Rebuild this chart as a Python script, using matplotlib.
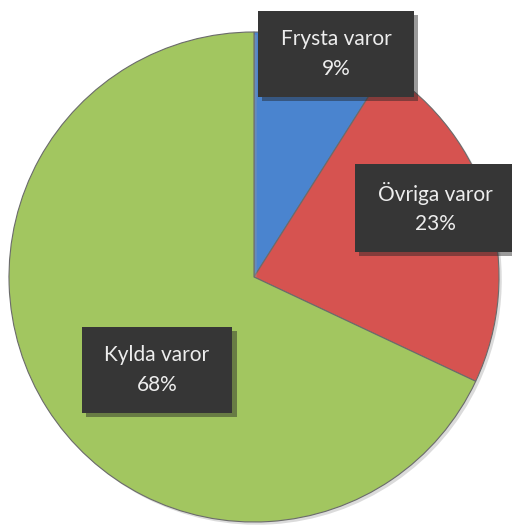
import matplotlib
matplotlib.use("Agg")
import matplotlib.pyplot as plt
import matplotlib.patheffects as pe

categories = ["Frysta varor", "Övriga varor", "Kylda varor"]
values = [9, 23, 68]
colors = ["#4A84CF", "#D65350", "#A2C660"]
label_pos = [(336, 472), (435, 318), (157, 156)]

W, H = 512, 526
fig = plt.figure(figsize=(W / 100, H / 100), dpi=100)
ax = fig.add_axes([0, 0, 1, 1])

wedges, _ = ax.pie(values, colors=colors, startangle=90, counterclock=False,
                   center=(254, 249), radius=245, frame=True,
                   wedgeprops=dict(edgecolor="#6b6b6b", linewidth=0.8))
for w in wedges:
    w.set_path_effects([pe.SimplePatchShadow(offset=(2, -2), shadow_rgbFace="#999999", alpha=0.35),
                        pe.Normal()])
ax.set_xlim(0, W)
ax.set_ylim(0, H)
ax.set_aspect("equal")
ax.axis("off")

for cat, val, (x, y) in zip(categories, values, label_pos):
    t = ax.text(x, y, f"{cat}\n{val}%", ha="center", va="center",
                color="#EDEDED", fontsize=15, family="Lato", linespacing=1.6,
                bbox=dict(boxstyle="square,pad=1.1", facecolor="#363636",
                          edgecolor="none"))
    bp = t.get_bbox_patch()
    bp.set_mutation_aspect(0.78)
    bp.set_path_effects([
        pe.SimplePatchShadow(offset=(3, -3), shadow_rgbFace="#222222", alpha=0.45),
        pe.Normal()])

fig.savefig("out.png", dpi=100)
